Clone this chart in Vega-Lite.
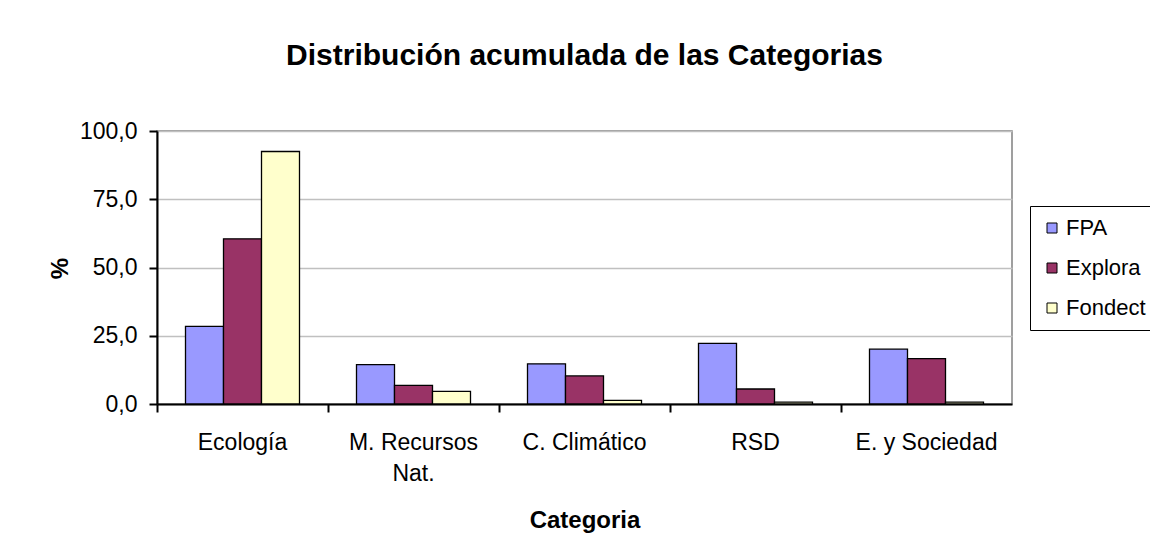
{
  "$schema": "https://vega.github.io/schema/vega-lite/v6.json",
  "width": 855,
  "height": 273,
  "autosize": {"type": "none"},
  "padding": {"left": 157, "top": 131, "right": 138, "bottom": 148},
  "background": "white",
  "title": {
    "text": "Distribución acumulada de las Categorias",
    "font": "Liberation Sans",
    "fontSize": 30,
    "fontWeight": "bold",
    "color": "black",
    "anchor": "middle",
    "baseline": "alphabetic",
    "offset": 25
  },
  "data": {
    "values": [
      {"categoria": "Ecología", "serie": "FPA", "pct": 28.4},
      {"categoria": "Ecología", "serie": "Explora", "pct": 60.5},
      {"categoria": "Ecología", "serie": "Fondect", "pct": 92.5},
      {"categoria": "M. Recursos Nat.", "serie": "FPA", "pct": 14.4},
      {"categoria": "M. Recursos Nat.", "serie": "Explora", "pct": 6.8},
      {"categoria": "M. Recursos Nat.", "serie": "Fondect", "pct": 4.6},
      {"categoria": "C. Climático", "serie": "FPA", "pct": 14.7},
      {"categoria": "C. Climático", "serie": "Explora", "pct": 10.3},
      {"categoria": "C. Climático", "serie": "Fondect", "pct": 1.3},
      {"categoria": "RSD", "serie": "FPA", "pct": 22.2},
      {"categoria": "RSD", "serie": "Explora", "pct": 5.5},
      {"categoria": "RSD", "serie": "Fondect", "pct": 0.7},
      {"categoria": "E. y Sociedad", "serie": "FPA", "pct": 20.1},
      {"categoria": "E. y Sociedad", "serie": "Explora", "pct": 16.6},
      {"categoria": "E. y Sociedad", "serie": "Fondect", "pct": 0.7}
    ]
  },
  "mark": {"type": "bar", "stroke": "black", "strokeWidth": 1.3},
  "encoding": {
    "x": {
      "field": "categoria",
      "type": "nominal",
      "sort": ["Ecología", "M. Recursos Nat.", "C. Climático", "RSD", "E. y Sociedad"],
      "scale": {"paddingInner": 0, "paddingOuter": 0},
      "axis": {
        "title": "Categoria",
        "labelAngle": 0,
        "bandPosition": 0,
        "labelExpr": "datum.value == 'M. Recursos Nat.' ? ['M. Recursos', 'Nat.'] : datum.value",
        "labelLineHeight": 31,
        "labelPadding": 19,
        "titleY": 123,
        "titleBaseline": "alphabetic"
      }
    },
    "xOffset": {
      "field": "serie",
      "type": "nominal",
      "sort": ["FPA", "Explora", "Fondect"],
      "scale": {"paddingInner": 0, "paddingOuter": 0.75}
    },
    "y": {
      "field": "pct",
      "type": "quantitative",
      "scale": {"domain": [0, 100]},
      "axis": {
        "title": "%",
        "values": [0, 25, 50, 75, 100],
        "format": ".1f",
        "labelPadding": 12,
        "titleX": -97,
        "titleY": 137,
        "titleAngle": -90,
        "titleAlign": "center",
        "titleBaseline": "middle"
      }
    },
    "color": {
      "field": "serie",
      "type": "nominal",
      "sort": ["FPA", "Explora", "Fondect"],
      "scale": {"domain": ["FPA", "Explora", "Fondect"], "range": ["#9999FF", "#993366", "#FFFFCC"]},
      "legend": {
        "title": null,
        "orient": "none",
        "legendX": 873,
        "legendY": 75,
        "strokeColor": "black",
        "padding": 11,
        "symbolType": "square",
        "symbolSize": 100,
        "symbolStrokeColor": "black",
        "symbolStrokeWidth": 1,
        "symbolOpacity": 1,
        "rowPadding": 18,
        "labelOffset": 3,
        "labelFontSize": 22,
        "labelFont": "Liberation Sans",
        "labelColor": "black"
      }
    }
  },
  "config": {
    "locale": {"number": {"decimal": ",", "thousands": ".", "grouping": [3], "currency": ["", " €"]}},
    "font": "Liberation Sans",
    "view": {"stroke": "#808080", "strokeWidth": 1.5},
    "axis": {
      "labelFont": "Liberation Sans",
      "labelFontSize": 23,
      "labelColor": "black",
      "titleFont": "Liberation Sans",
      "titleFontSize": 24,
      "titleFontWeight": "bold",
      "titleColor": "black",
      "domainColor": "black",
      "domainWidth": 2,
      "tickColor": "black",
      "tickWidth": 2,
      "tickSize": 8,
      "gridColor": "#c0c0c0",
      "gridWidth": 1.5
    },
    "axisX": {"grid": false},
    "axisY": {"grid": true}
  }
}
